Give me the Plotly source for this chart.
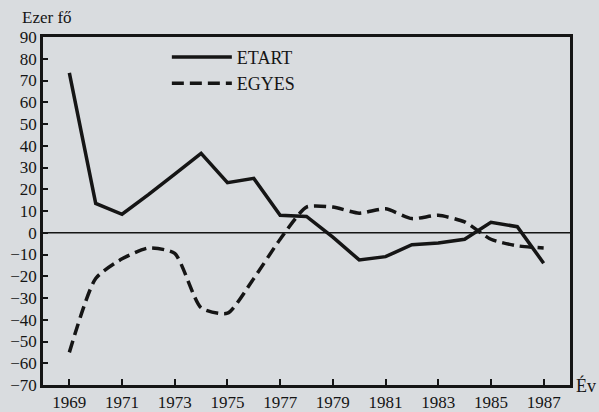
import plotly.graph_objects as go

# Years on the x axis
years = list(range(1969, 1988))

# ETART series (thousand persons)
etart = [73.5, 13.5, 8.5, 17.5, 27, 36.5, 23, 25, 8, 7.5, -2, -12.5, -11, -5.5, -4.7, -3, 4.8, 2.8, -14]

# EGYES series (thousand persons)
egyes = [-55, -21, -12, -7, -9.5, -34.5, -37, -21, -3, 11.8, 11.8, 9, 11, 6.5, 8, 5, -3, -6, -7]

x_ticks = list(range(1969, 1988, 2))
y_ticks = list(range(-70, 91, 10))

BG = "#d9dcdf"
INK = "#151515"
SERIF = "Liberation Serif, DejaVu Serif, serif"

fig = go.Figure()

fig.add_trace(
    go.Scatter(
        x=years,
        y=etart,
        mode="lines",
        name="ETART",
        line=dict(color=INK, width=3.5),
    )
)

fig.add_trace(
    go.Scatter(
        x=years,
        y=egyes,
        mode="lines",
        name="EGYES",
        line=dict(color=INK, width=3.5, dash="12px,6px", shape="spline", smoothing=0.6),
    )
)

# Zero reference line
fig.add_hline(y=0, line=dict(color=INK, width=1.5))

fig.update_layout(
    width=599,
    height=412,
    margin=dict(l=43, r=29, t=37, b=27, autoexpand=False),
    paper_bgcolor=BG,
    plot_bgcolor=BG,
    font=dict(family=SERIF, size=17, color=INK),
    showlegend=True,
    legend=dict(
        x=0.235,
        y=0.995,
        xanchor="left",
        yanchor="top",
        bgcolor="rgba(0,0,0,0)",
        font=dict(family=SERIF, size=18, color=INK),
        itemwidth=60,
        tracegroupgap=0,
    ),
    annotations=[
        dict(
            text="Ezer fő",
            xref="paper",
            yref="paper",
            x=-0.043,
            y=1.0,
            xanchor="left",
            yanchor="bottom",
            yshift=8,
            showarrow=False,
            font=dict(family=SERIF, size=17, color=INK),
        ),
        dict(
            text="Év",
            xref="paper",
            yref="paper",
            x=1.0,
            y=0.0,
            xanchor="left",
            yanchor="middle",
            xshift=4,
            showarrow=False,
            font=dict(family=SERIF, size=18, color=INK),
        ),
    ],
)

fig.update_xaxes(
    range=[1968, 1988],
    tickvals=x_ticks,
    ticks="inside",
    ticklen=6,
    tickwidth=1.5,
    tickcolor=INK,
    showgrid=False,
    zeroline=False,
    showline=True,
    linecolor=INK,
    linewidth=2.5,
    mirror=True,
    automargin=False,
    tickfont=dict(family=SERIF, size=17, color=INK),
)

fig.update_yaxes(
    range=[-70, 90],
    tickvals=y_ticks,
    ticks="inside",
    ticklen=5,
    tickwidth=1.5,
    tickcolor=INK,
    showgrid=False,
    zeroline=False,
    showline=True,
    linecolor=INK,
    linewidth=2.5,
    mirror=True,
    automargin=False,
    tickfont=dict(family=SERIF, size=17, color=INK),
)

# drop the page's default body margin so the figure sits at the window corner
fig.write_html(
    "out.html",
    config={"displayModeBar": False},
    post_script="document.body.style.margin='0';",
)
